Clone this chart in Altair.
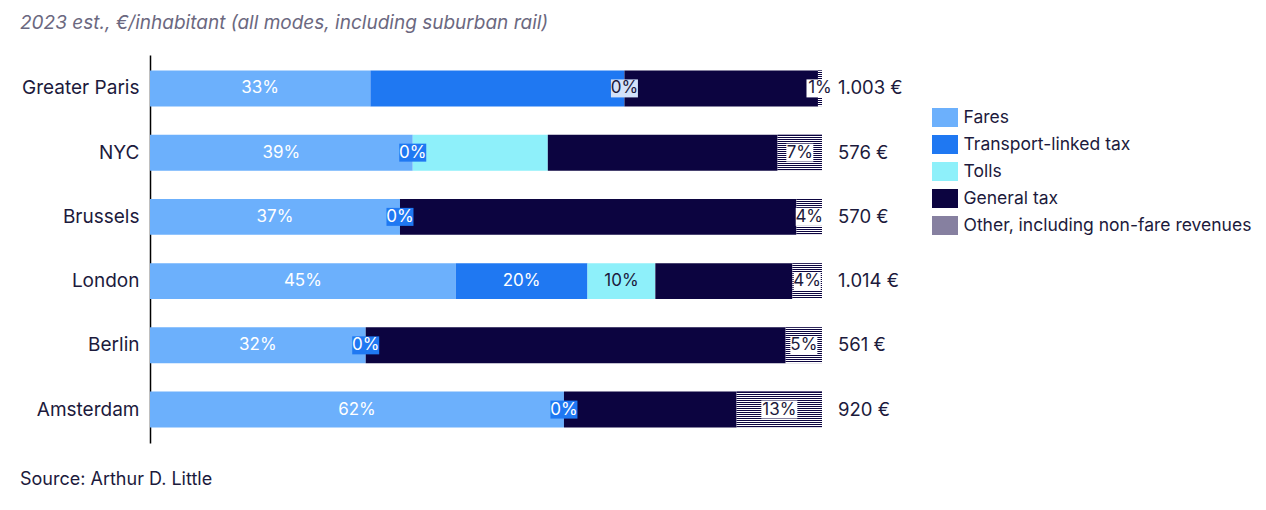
import altair as alt
import pandas as pd

cities = ["Greater Paris", "NYC", "Brussels", "London", "Berlin", "Amsterdam"]
categories = ["Fares", "Transport-linked tax", "Tolls", "General tax",
              "Other, including non-fare revenues"]
fares = [32.8, 39.1, 37.2, 45.5, 32.1, 61.6]
transport_tax = [37.8, 0.0, 0.0, 19.6, 0.0, 0.0]
tolls = [0.0, 20.1, 0.0, 10.1, 0.0, 0.0]
general_tax = [28.8, 34.2, 59.0, 20.4, 62.5, 25.7]
other = [0.6, 6.6, 3.8, 4.4, 5.4, 12.7]
totals = ["1.003 €", "576 €", "570 €", "1.014 €", "561 €", "920 €"]

label_fares = ["33%", "39%", "37%", "45%", "32%", "62%"]
label_tlt = ["", "0%", "0%", "20%", "0%", "0%"]
label_tolls = ["0%", "", "", "10%", "", ""]
label_other = ["1%", "7%", "4%", "4%", "5%", "13%"]

colors = ["#6cb0fc", "#1f78f2", "#8ef0fa", "#0c0440", "#8680a0"]
NAVY = "#0c0440"
TXT = "#1c1a3c"

series = [fares, transport_tax, tolls, general_tax, other]
label_series = [label_fares, label_tlt, label_tolls, None, label_other]

rows, lab_rows = [], []
for ci, city in enumerate(cities):
    cum = 0.0
    for k, cat in enumerate(categories):
        v = series[k][ci]
        rows.append({"city": city, "cat": cat, "v": v, "ord": k,
                     "x0": cum, "x1": cum + v})
        mid = cum + v / 2
        ls = label_series[k]
        if ls is not None and ls[ci]:
            txt = ls[ci]
            if k == 0:
                tcol, box = "white", None
            elif k == 1:
                tcol, box = "white", colors[1]
            elif k == 2:
                tcol, box = TXT, ("#d3e2fa" if v == 0 else colors[2])
            else:
                tcol, box = TXT, "white"
            lab_rows.append({"city": city, "mid": mid, "txt": txt, "tcol": tcol,
                             "box": box, "w": str(len(txt))})
        cum += v

df = pd.DataFrame(rows)
lab = pd.DataFrame(lab_rows)
boxes = lab[lab["box"].notna()]
tot = pd.DataFrame({"city": cities, "total": totals, "end": [100] * len(cities)})

W, H = 672, 388
ysc = alt.Scale(domain=cities, paddingInner=0.44, paddingOuter=0.24)
xsc = alt.Scale(domain=[0, 100])

bars = alt.Chart(df).mark_bar().encode(
    y=alt.Y("city:N", scale=ysc, sort=cities,
            axis=alt.Axis(title=None, ticks=False, domainColor="#000000",
                          domainWidth=1.5, labelFontSize=19, labelColor=TXT,
                          labelPadding=11, labelFont="Inter")),
    x=alt.X("x0:Q", scale=xsc, axis=None),
    x2="x1:Q",
    color=alt.Color("cat:N", scale=alt.Scale(domain=categories, range=colors),
                    legend=alt.Legend(title=None, orient="none", legendX=785.5,
                                      legendY=53, symbolType="M-1.37,-1H1.37V1H-1.37Z",
                                      symbolSize=361, symbolStrokeWidth=0,
                                      labelFontSize=17.5, labelColor=TXT,
                                      labelFont="Inter", rowPadding=8,
                                      labelOffset=9, labelLimit=400)),
)

stops = []
n = 18
for i in range(n):
    stops.append(alt.GradientStop(offset=i / n, color=NAVY))
    stops.append(alt.GradientStop(offset=(i + 0.5) / n, color=NAVY))
    stops.append(alt.GradientStop(offset=(i + 0.5) / n, color="#ffffff"))
    stops.append(alt.GradientStop(offset=(i + 1) / n, color="#ffffff"))
grad = alt.LinearGradient(gradient="linear", stops=stops, x1=0, x2=0, y1=0, y2=1)

other_bars = alt.Chart(df[df["ord"] == 4]).mark_bar(color=grad).encode(
    y=alt.Y("city:N", scale=ysc, sort=cities),
    x=alt.X("x0:Q", scale=xsc),
    x2="x1:Q",
)

box_layer = alt.Chart(boxes).mark_point(filled=True, opacity=1, strokeWidth=0, size=324).encode(
    y=alt.Y("city:N", scale=ysc, sort=cities),
    x=alt.X("mid:Q", scale=xsc),
    fill=alt.Fill("box:N", scale=None),
    shape=alt.Shape("w:N", scale=alt.Scale(domain=["2", "3"],
                                           range=["M-1.5,-1H1.5V1H-1.5Z", "M-2,-1H2V1H-2Z"]),
                    legend=None),
)

txt_layer = alt.Chart(lab).mark_text(fontSize=17, font="Inter", align="center",
                                     baseline="middle").encode(
    y=alt.Y("city:N", scale=ysc, sort=cities),
    x=alt.X("mid:Q", scale=xsc),
    text="txt:N",
    fill=alt.Fill("tcol:N", scale=None),
)

tot_layer = alt.Chart(tot).mark_text(fontSize=18.5, font="Inter", align="left",
                                     baseline="middle", dx=16, color=TXT).encode(
    y=alt.Y("city:N", scale=ysc, sort=cities),
    x=alt.X("end:Q", scale=xsc),
    text="total:N",
)

title_df = pd.DataFrame({"t": ["2023 est., €/inhabitant (all modes, including suburban rail)"]})
title_layer = alt.Chart(title_df).mark_text(fontSize=19, font="Inter", fontStyle="italic",
                                            align="left", baseline="middle",
                                            color="#6b6880").encode(
    x=alt.value(-130), y=alt.value(-32), text="t:N")

src_df = pd.DataFrame({"t": ["Source: Arthur D. Little"]})
src_layer = alt.Chart(src_df).mark_text(fontSize=18, font="Inter", align="left",
                                        baseline="middle", color=TXT).encode(
    x=alt.value(-130), y=alt.value(425), text="t:N")

chart = alt.layer(bars, other_bars, box_layer, txt_layer, tot_layer,
                  title_layer, src_layer).resolve_scale(
    fill="independent", shape="independent"
).properties(
    width=W, height=H,
    background="white",
    autosize=alt.AutoSizeParams(type="none"),
    padding={"left": 142, "top": 47, "right": 436, "bottom": 59},
).configure_view(stroke=None)

chart.save("out.html", embed_options={"renderer": "svg", "actions": False})
